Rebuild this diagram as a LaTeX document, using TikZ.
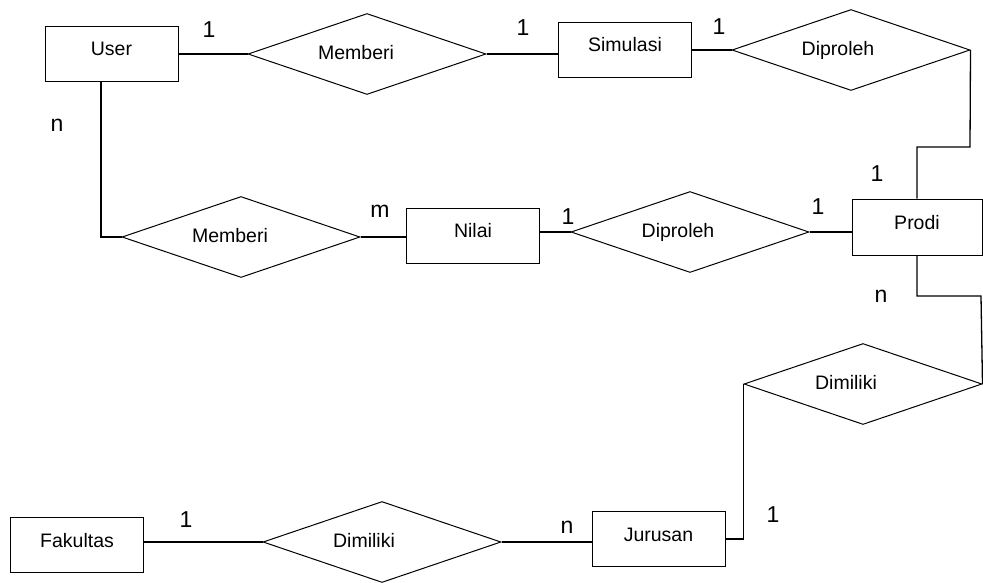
\documentclass[tikz,border=0pt]{standalone}
\usepackage{fontspec}
\setmainfont{Liberation Sans}
\usetikzlibrary{shapes.geometric}
\begin{document}
\begin{tikzpicture}[x=1pt,y=-1pt,
  ent/.style={draw, rectangle, line width=1pt, inner sep=0pt, minimum width=133pt, minimum height=55pt,
    font=\fontsize{19.5}{22}\selectfont, text height=14pt, text depth=10pt},
  rel/.style={draw, diamond, aspect=2.9, line width=1pt, inner sep=0pt, minimum width=238pt, minimum height=81pt,
    font=\fontsize{19.5}{22}\selectfont, text height=14pt, text depth=4pt},
  card/.style={font=\fontsize{23}{26}\selectfont, inner sep=0pt},
  link/.style={line width=1.3pt}]
\useasboundingbox (0,0) rectangle (983,582);

% entities
\node[ent] (user) at (111.5,53.5) {User};
\node[ent] (sim)  at (625,49.5) {Simulasi};
\node[ent] (nilai) at (473,235.5) {Nilai};
\node[ent, minimum width=130pt, minimum height=56pt] (prodi) at (917,227) {Prodi};
\node[ent] (jur) at (658.5,539) {Jurusan};
\node[ent] (fak) at (77,545) {Fakultas};

% relationships
\node[rel] (m1)  at (367,54)  {Memberi\hspace*{22pt}};
\node[rel] (d1)  at (851,50)  {Diproleh\hspace*{26pt}};
\node[rel] (m2)  at (241,237) {Memberi\hspace*{22pt}};
\node[rel] (d2)  at (690,232) {Diproleh\hspace*{24pt}};
\node[rel] (dm1) at (863,384) {Dimiliki\hspace*{34pt}};
\node[rel] (dm2) at (382,542) {Dimiliki\hspace*{36pt}};

% bend points
\coordinate (k1) at (970,147);
\coordinate (k2) at (981,296);

% connectors
\draw[link] (m1.west -| user.east) -- (m1.west);
\draw[link] (m1.east) -- (m1.east -| sim.west);
\draw[link] (d1.west -| sim.east) -- (d1.west);
\draw[link] (d1.east) -- (k1) -| (prodi.north);
\draw[link] ([xshift=-10.5pt]user.south) |- (m2.west);
\draw[link] (m2.east) -- (m2.east -| nilai.west);
\draw[link] (d2.west -| nilai.east) -- (d2.west);
\draw[link] (d2.east) -- (d2.east -| prodi.west);
\draw[link] (prodi.south) |- (k2) -- (dm1.east);
\draw[link] (dm1.west) |- (jur.east);
\draw[link] (dm2.east) -- (dm2.east -| jur.west);
\draw[link] (dm2.west -| fak.east) -- (dm2.west);

% cardinalities
\node[card] (c1)  at (209,30)  {1};
\node[card] (c2)  at (523,28)  {1};
\node[card] (c3)  at (719,27)  {1};
\node[card] (c4)  at (57,125)  {n};
\node[card] (c5)  at (380,211) {m};
\node[card] (c6)  at (568,217) {1};
\node[card] (c7)  at (818,207) {1};
\node[card] (c8)  at (877,174) {1};
\node[card] (c9)  at (881,296) {n};
\node[card] (c10) at (773,515) {1};
\node[card] (c11) at (567,527) {n};
\node[card] (c12) at (186,520) {1};
\end{tikzpicture}
\end{document}
